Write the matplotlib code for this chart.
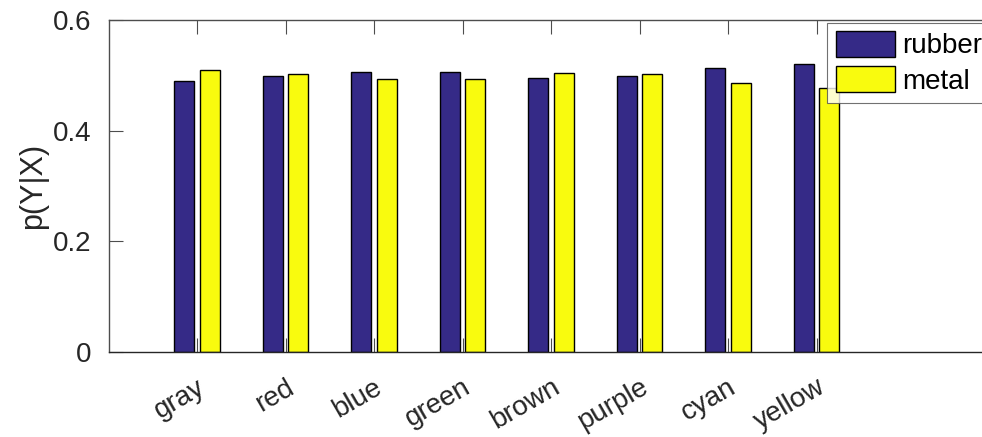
import numpy as np
import matplotlib
matplotlib.use("Agg")
import matplotlib.pyplot as plt

colors = ["gray", "red", "blue", "green", "brown", "purple", "cyan", "yellow"]
rubber = [0.490, 0.498, 0.506, 0.506, 0.495, 0.498, 0.513, 0.521]
metal = [0.510, 0.502, 0.494, 0.494, 0.505, 0.502, 0.487, 0.478]
series_names = ["rubber", "metal"]
y_ticks = [0, 0.2, 0.4, 0.6]
y_tick_labels = ["0", "0.2", "0.4", "0.6"]

plt.rcParams["font.family"] = ["Liberation Sans", "DejaVu Sans"]

fig = plt.figure(figsize=(9.82, 4.37), dpi=100)
ax = fig.add_axes([108.5 / 982, 85 / 437, 885 / 982, 332 / 437])

x = np.arange(1, len(colors) + 1)
width = 0.229
off = 0.143
ax.bar(x - off, rubber, width, color="#352a87", edgecolor="black", linewidth=1.0,
       label=series_names[0], zorder=2)
ax.bar(x + off, metal, width, color="#f9fb0e", edgecolor="black", linewidth=1.0,
       label=series_names[1], zorder=2)

ax.set_xlim(0, 10)
ax.set_ylim(0, 0.6)
ax.set_yticks(y_ticks)
ax.set_yticklabels(y_tick_labels)
ax.set_xticks(x)
ax.set_xticklabels(colors, rotation=30, ha="right", va="top", rotation_mode="anchor",
                   fontsize=21)

axis_col = "#262626"
for s in ax.spines.values():
    s.set_color("#4d4d4d")
    s.set_linewidth(1.0)
ax.spines["bottom"].set_color(axis_col)
ax.tick_params(axis="both", direction="in", length=10, width=0.8, color="#4d4d4d",
               labelsize=20, labelcolor=axis_col, top=True, right=False)
ax.tick_params(axis="x", pad=16)
ax.tick_params(axis="y", pad=12)
ax.set_ylabel("p(Y|X)", fontsize=22, color=axis_col, labelpad=4)

leg = ax.legend(loc="upper right", fontsize=20, frameon=True, fancybox=False,
                borderaxespad=0.1, handlelength=2.15, handleheight=1.05,
                handletextpad=0.25, borderpad=0.3, labelspacing=0.25)
leg.get_frame().set_edgecolor("#4d4d4d")
leg.get_frame().set_linewidth(0.8)

fig.savefig("out.png", dpi=100)
